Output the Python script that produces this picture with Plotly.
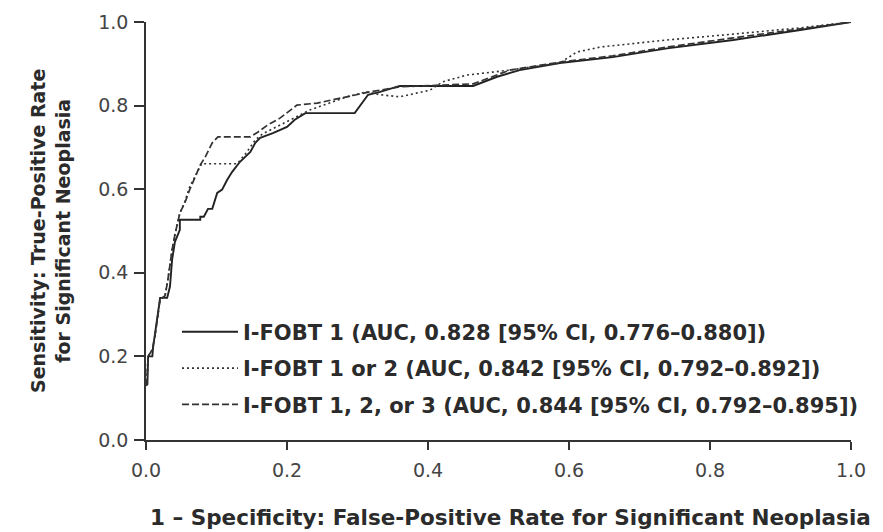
import plotly.graph_objects as go

# ---- data ----
fobt1_x = [0.0, 0.002, 0.003, 0.009, 0.010, 0.013, 0.018, 0.020, 0.030, 0.034, 0.037, 0.041, 0.048, 0.048,
           0.077, 0.077, 0.082, 0.088, 0.094, 0.101, 0.108, 0.115, 0.122, 0.133, 0.148, 0.155, 0.162,
           0.180, 0.200, 0.211, 0.226, 0.296, 0.315, 0.332, 0.360, 0.464, 0.498, 0.530, 0.587, 0.662,
           0.739, 0.833, 0.928, 1.0]
fobt1_y = [0.13, 0.133, 0.200, 0.200, 0.221, 0.257, 0.312, 0.340, 0.340, 0.367, 0.431, 0.474, 0.503, 0.527,
           0.527, 0.534, 0.534, 0.553, 0.553, 0.591, 0.599, 0.622, 0.641, 0.665, 0.689, 0.711, 0.723,
           0.734, 0.749, 0.766, 0.782, 0.782, 0.826, 0.833, 0.847, 0.847, 0.869, 0.885, 0.902, 0.916,
           0.937, 0.957, 0.981, 1.0]

fobt12_x = [0.0, 0.001, 0.003, 0.009, 0.013, 0.017, 0.020, 0.027, 0.031, 0.037, 0.041, 0.048, 0.055, 0.062,
            0.072, 0.079, 0.129, 0.133, 0.143, 0.155, 0.165, 0.183, 0.204, 0.233, 0.285, 0.313, 0.332,
            0.360, 0.403, 0.421, 0.455, 0.516, 0.587, 0.611, 0.644, 0.739, 0.833, 0.928, 1.0]
fobt12_y = [0.13, 0.133, 0.200, 0.216, 0.252, 0.300, 0.336, 0.345, 0.383, 0.455, 0.491, 0.543, 0.570, 0.606,
            0.639, 0.661, 0.661, 0.668, 0.689, 0.718, 0.732, 0.747, 0.766, 0.790, 0.821, 0.833, 0.826,
            0.821, 0.837, 0.857, 0.873, 0.885, 0.902, 0.928, 0.940, 0.957, 0.971, 0.986, 1.0]

fobt123_x = [0.0, 0.001, 0.003, 0.009, 0.013, 0.017, 0.020, 0.027, 0.031, 0.037, 0.041, 0.048, 0.055, 0.062,
             0.070, 0.077, 0.084, 0.094, 0.102, 0.148, 0.159, 0.172, 0.190, 0.214, 0.243, 0.285, 0.318,
             0.360, 0.464, 0.516, 0.591, 0.662, 0.739, 0.833, 0.928, 1.0]
fobt123_y = [0.13, 0.133, 0.200, 0.216, 0.252, 0.300, 0.336, 0.345, 0.383, 0.455, 0.491, 0.543, 0.567, 0.599,
             0.629, 0.658, 0.677, 0.711, 0.725, 0.725, 0.737, 0.753, 0.770, 0.801, 0.806, 0.821, 0.833,
             0.845, 0.852, 0.885, 0.905, 0.919, 0.940, 0.962, 0.983, 1.0]

series_names = [
    "I-FOBT 1 (AUC, 0.828 [95% CI, 0.776\u20130.880])",
    "I-FOBT 1 or 2 (AUC, 0.842 [95% CI, 0.792\u20130.892])",
    "I-FOBT 1, 2, or 3 (AUC, 0.844 [95% CI, 0.792\u20130.895])",
]
tick_vals = [0.0, 0.2, 0.4, 0.6, 0.8, 1.0]
x_title = "1 \u2013 Specificity: False-Positive Rate for Significant Neoplasia"
y_title = "Sensitivity: True-Positive Rate<br>for Significant Neoplasia"

FONT = "DejaVu Sans"
INK = "#2b2b2b"

fig = go.Figure()
fig.add_trace(go.Scatter(x=fobt1_x, y=fobt1_y, mode="lines", name=series_names[0], legendgroup="a",
                         line=dict(color="#222222", width=1.9)))
fig.add_trace(go.Scatter(x=fobt12_x, y=fobt12_y, mode="lines", name=series_names[1], legendgroup="b",
                         line=dict(color="#333333", width=1.6, dash="2px,3px")))
fig.add_trace(go.Scatter(x=fobt123_x, y=fobt123_y, mode="lines", name=series_names[2], legendgroup="c",
                         line=dict(color="#333333", width=1.7, dash="7px,3px")))

axis_common = dict(
    range=[0, 1], tickvals=tick_vals, tickformat=".1f", showgrid=False, zeroline=False,
    showline=True, linecolor="#333333", linewidth=1.5, ticks="outside", tickcolor="#333333",
    tickwidth=1.5, tickfont=dict(family=FONT, size=19, color="#444444"),
)
fig.update_xaxes(**axis_common, ticklen=8, ticklabelstandoff=4)
fig.update_yaxes(**axis_common, ticklen=10, ticklabelstandoff=2)

fig.update_layout(
    width=883, height=532,
    margin=dict(l=146, r=32, t=22, b=92),
    paper_bgcolor="white", plot_bgcolor="white",
    showlegend=True,
    legend=dict(x=(177 - 146) / 705, y=(440.5 - 312) / 418.5, xanchor="left", yanchor="top",
                traceorder="grouped", itemwidth=56,
                tracegroupgap=6, bgcolor="rgba(0,0,0,0)",
                font=dict(family=FONT, size=21, color=INK, weight="bold")),
    annotations=[
        dict(text=x_title, xref="paper", yref="paper", x=(510 - 146) / 705, y=(440.5 - 518) / 418.5,
             xanchor="center", yanchor="middle", showarrow=False,
             font=dict(family=FONT, size=21.5, color=INK, weight="bold")),
        dict(text=y_title, xref="paper", yref="paper", x=(50 - 146) / 705, y=0.5,
             xanchor="center", yanchor="middle", textangle=-90, showarrow=False,
             font=dict(family=FONT, size=19, color=INK, weight="bold")),
    ],
)

fig.write_html("out.html")
